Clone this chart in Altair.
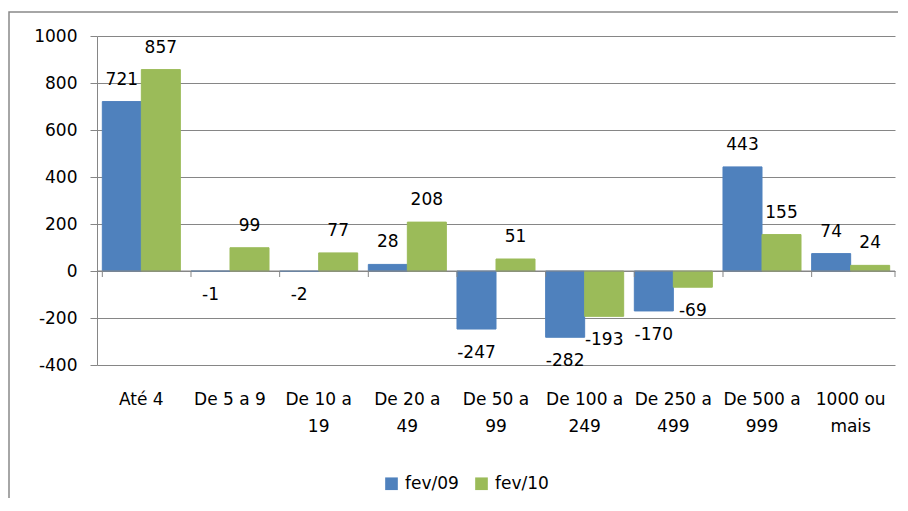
import altair as alt
import pandas as pd

categories = ["Até 4", "De 5 a 9", "De 10 a\n19", "De 20 a\n49", "De 50 a\n99",
              "De 100 a\n249", "De 250 a\n499", "De 500 a\n999", "1000 ou\nmais"]
series = ["fev/09", "fev/10"]
fev09 = [721, -1, -2, 28, -247, -282, -170, 443, 74]
fev10 = [857, 99, 77, 208, 51, -193, -69, 155, 24]
colors = ["#4F81BD", "#9BBB59"]
title_text = "Campinas, fev/09 e fev/10"

rows = []
for c, a, b in zip(categories, fev09, fev10):
    rows.append({"cat": c, "serie": series[0], "valor": a})
    rows.append({"cat": c, "serie": series[1], "valor": b})
df = pd.DataFrame(rows)
cat_df = pd.DataFrame({"cat": categories})
one = pd.DataFrame({"t": [title_text]})

W, H = 798, 329
FONT = "DejaVu Sans"
GRAY = "#868686"

x_enc = alt.X("cat:N", sort=categories,
              scale=alt.Scale(paddingInner=0.12, paddingOuter=0.06),
              axis=alt.Axis(title=None, labelAngle=0, domain=False, ticks=False, tickSize=0,
                            grid=False,
                            labelPadding=26, labelBaseline="top", labelLineHeight=27,
                            labelFont=FONT, labelFontSize=17, labelColor="black",
                            labelExpr="split(datum.value, '\\n')"))
y_enc = alt.Y("valor:Q", scale=alt.Scale(domain=[-400, 1000], nice=False, zero=False),
              axis=alt.Axis(title=None, values=list(range(-400, 1001, 200)),
                            grid=True, tickSize=7, tickColor=GRAY, domainColor=GRAY,
                            gridColor=GRAY, labelExpr="'' + datum.value",
                            labelPadding=13, labelFont=FONT, labelFontSize=17,
                            labelColor="black"))
color_enc = alt.Color("serie:N", scale=alt.Scale(domain=series, range=colors),
                      legend=alt.Legend(title=None, orient="none", legendX=286, legendY=439,
                                        direction="horizontal", symbolType="square",
                                        symbolSize=160, symbolStrokeWidth=0,
                                        labelFont=FONT, labelFontSize=17, labelColor="black",
                                        columnPadding=14, labelOffset=5, padding=0))

base = alt.Chart(df).transform_calculate(lbl="'' + datum.valor")
bars = base.mark_bar(strokeWidth=1).encode(
    x=x_enc, y=y_enc, xOffset=alt.XOffset("serie:N", sort=series,
                                          scale=alt.Scale(paddingInner=0, paddingOuter=0)),
    color=color_enc, stroke=alt.Color("serie:N", scale=alt.Scale(domain=series, range=colors),
                                      legend=None))

pos_labels = base.transform_filter("datum.valor >= 0").mark_text(
    font=FONT, fontSize=17, color="black", baseline="middle", dy=-22).encode(
    x=alt.X("cat:N", sort=categories), y="valor:Q",
    xOffset=alt.XOffset("serie:N", sort=series), text="lbl:N")
neg_labels = base.transform_filter("datum.valor < 0").mark_text(
    font=FONT, fontSize=17, color="black", baseline="middle", dy=24).encode(
    x=alt.X("cat:N", sort=categories), y="valor:Q",
    xOffset=alt.XOffset("serie:N", sort=series), text="lbl:N")

zero_line = alt.Chart(one).mark_rule(color=GRAY, strokeWidth=1).encode(
    x=alt.value(0), x2=alt.value(W), y=alt.datum(0))
ticks = alt.Chart(cat_df).mark_rule(color=GRAY, strokeWidth=1).encode(
    x=alt.X("cat:N", sort=categories, bandPosition=0), y=alt.datum(0),
    y2=alt.value(H * 1000 / 1400 + 6))
last_tick = alt.Chart(one).mark_rule(color=GRAY, strokeWidth=1).encode(
    x=alt.value(W), y=alt.datum(0), y2=alt.value(H * 1000 / 1400 + 6))

frame = alt.Chart(one).mark_rect(fill=None, stroke="#898989", strokeWidth=1.5).encode(
    x=alt.value(-88), x2=alt.value(W + 200), y=alt.value(-24), y2=alt.value(H + 400))
title = alt.Chart(one).mark_text(font="DejaVu Sans", fontSize=20, fontWeight="bold",
                                 color="black", baseline="bottom").encode(
    x=alt.value(376), y=alt.value(-29), text="t:N")

chart = alt.layer(frame, title, bars, zero_line, ticks, last_tick, pos_labels, neg_labels).properties(
    width=W, height=H,
    autosize=alt.AutoSizeParams(type="none"),
    padding={"left": 89, "top": 28, "right": 3, "bottom": 133},
).configure_view(stroke=None)

chart.save("out.html", embed_options={"renderer": "svg", "actions": False})
